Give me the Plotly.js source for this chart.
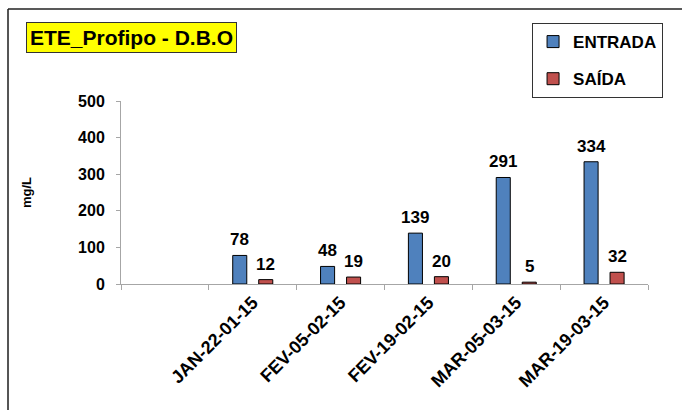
<!DOCTYPE html>
<html>
<head>
<meta charset="utf-8">
<script src="https://cdn.plot.ly/plotly-3.0.1.min.js"></script>
<style>html,body{margin:0;padding:0;background:#fff;}#chart{width:682px;height:410px;}</style>
</head>
<body>
<div id="chart"></div>
<script>
const categories = [" ", "JAN-22-01-15", "FEV-05-02-15", "FEV-19-02-15", "MAR-05-03-15", "MAR-19-03-15"];
const entrada = [null, 78, 48, 139, 291, 334];
const saida = [null, 12, 19, 20, 5, 32];
const seriesNames = ["ENTRADA", "SAÍDA"];
const yTicks = [0, 100, 200, 300, 400, 500];
const chartTitle = "ETE_Profipo - D.B.O";
const yTitle = "mg/L";

const FONT = "Liberation Sans, Arial, sans-serif";

const traces = [
  {type: "bar", name: seriesNames[0], x: categories, y: entrada, legendgroup: "a",
   marker: {color: "#4F81BD", line: {color: "#000", width: 1}}, hoverinfo: "skip"},
  {type: "bar", name: seriesNames[1], x: categories, y: saida, legendgroup: "b",
   marker: {color: "#C0504D", line: {color: "#000", width: 1}}, hoverinfo: "skip"}
];

const annotations = [];
[entrada, saida].forEach((arr, s) => {
  arr.forEach((v, i) => {
    if (v === null) return;
    annotations.push({x: categories[i], y: v, xref: "x", yref: "y", text: "<b>" + v + "</b>",
      showarrow: false, xshift: s === 0 ? -13 : 13, yanchor: "bottom", yshift: 4,
      font: {family: FONT, size: 17, color: "#000"}});
  });
});
annotations.push({xref: "paper", yref: "paper", x: 0.019, y: 1.347, xanchor: "center", yanchor: "middle",
  text: "<b>" + chartTitle + "</b>", showarrow: false, bgcolor: "#FFFF00", bordercolor: "#333",
  borderwidth: 1, borderpad: 3, font: {family: FONT, size: 21, color: "#000"}});

const layout = {
  width: 682, height: 410,
  margin: {l: 121, r: 34, t: 101, b: 126},
  paper_bgcolor: "#fff", plot_bgcolor: "#fff",
  barmode: "group", bargap: 0.408, bargroupgap: 0.46,
  font: {family: FONT, color: "#000"},
  showlegend: true,
  legend: {x: 0.78, y: 1.426, xanchor: "left", yanchor: "top", bordercolor: "#333", borderwidth: 1,
    traceorder: "grouped", tracegroupgap: 12, entrywidth: 95,
    font: {family: FONT, size: 17, color: "#000", weight: 700}},
  xaxis: {type: "category", categoryorder: "array", categoryarray: categories,
    showline: true, linecolor: "#A6A6A6", linewidth: 1, ticks: "outside", tickson: "boundaries",
    ticklen: 5, tickcolor: "#A6A6A6", tickangle: -45, showgrid: false, zeroline: false,
    tickfont: {family: FONT, size: 18, color: "#000", weight: "bold"}, fixedrange: true},
  yaxis: {range: [0, 500], tickvals: yTicks, showline: true, linecolor: "#A6A6A6", linewidth: 1,
    ticks: "outside", ticklen: 4, tickcolor: "#A6A6A6", showgrid: false, zeroline: false,
    ticklabelstandoff: 8,
    tickfont: {family: FONT, size: 16, color: "#000", weight: "bold"},
    title: {text: yTitle, standoff: 43, font: {family: FONT, size: 13, color: "#000", weight: "bold"}},
    fixedrange: true},
  annotations: annotations,
  shapes: [
    {type: "line", xref: "paper", yref: "paper", x0: -0.2144, x1: -0.2144, y0: 1.5027, y1: -0.75,
     line: {color: "#555", width: 2}},
    {type: "line", xref: "paper", yref: "paper", x0: -0.2144, x1: 1.09, y0: 1.5027, y1: 1.5027,
     line: {color: "#222", width: 1.5}}
  ]
};

Plotly.newPlot("chart", traces, layout, {displayModeBar: false, staticPlot: true});
</script>
</body>
</html>
